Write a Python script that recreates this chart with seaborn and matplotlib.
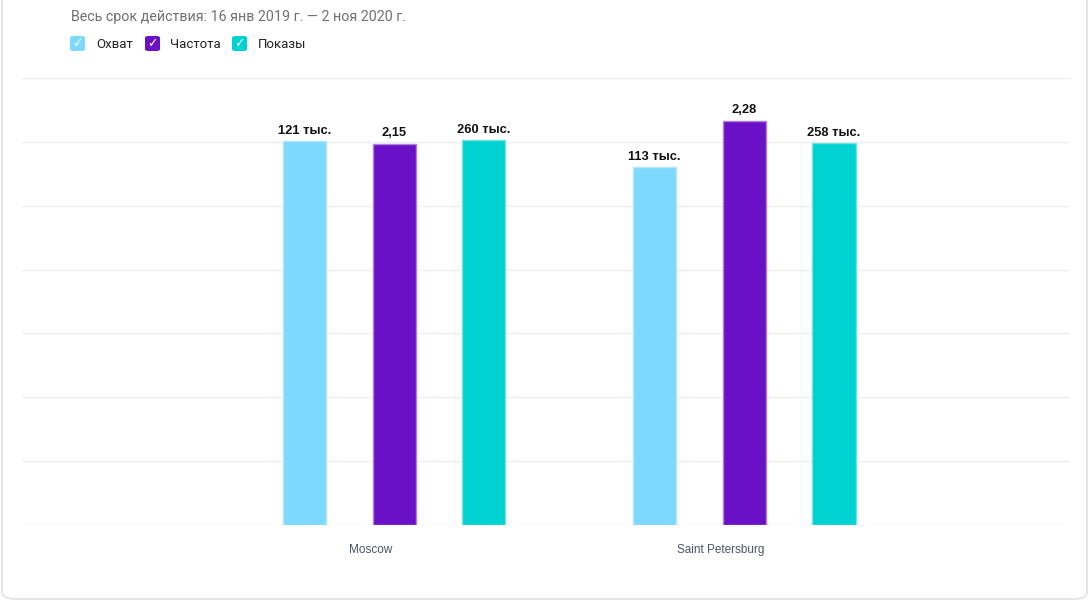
import pandas as pd
import seaborn as sns
import matplotlib.pyplot as plt
from matplotlib.patches import FancyBboxPatch
from matplotlib.transforms import ScaledTranslation

cities = ['Moscow', 'Saint Petersburg']
series = ['Охват', 'Частота', 'Показы']
reach = [121000, 113000]
frequency = [2.15, 2.28]
impressions = [260000, 258000]
colors = ['#7dd9ff', '#6a11c8', '#00d1d1']
axis_max = [141000, 2.52, 302000]   # each series has its own scale
title = 'Весь срок действия: 16 янв 2019 г. — 2 ноя 2020 г.'

df = pd.DataFrame({
    'city': cities * 3,
    'series': [s for s in series for _ in cities],
    'value': reach + frequency + impressions,
})


def fmt(s, v):
    if s == 'Частота':
        return f'{v:.2f}'.replace('.', ',')
    return f'{v / 1000:.0f} тыс.'


sns.set_theme(style='white')
plt.rcParams['font.family'] = ['Roboto', 'DejaVu Sans']

fig = plt.figure(figsize=(10.9, 6.02), dpi=100)
W, H = 1090, 602
ax = fig.add_axes([22 / W, 1 - 525 / H, (1070 - 22) / W, (525 - 78) / H])
axes = [ax, ax.twinx(), ax.twinx()]

for i, s in enumerate(series):
    a = axes[i]
    sub = df[df.series == s]
    sns.barplot(data=sub, x='city', y='value', hue='series', hue_order=series,
                order=cities, palette=colors, width=0.77, gap=0.52, dodge=True,
                saturation=1, errorbar=None, legend=False, ax=a, linewidth=1,
                edgecolor=sns.light_palette(colors[i], 3)[1])
    a.set_ylim(0, axis_max[i])
    for c in a.containers:
        if len(c) == 0 or any(p is None for p in c):
            continue
        a.bar_label(c, labels=[fmt(s, v) for v in sub['value']], padding=3,
                    fontsize=9.3, fontweight='bold', color='#111111',
                    family=['Liberation Sans', 'DejaVu Sans'])

ax.set_xlim(-1.063, 1.931)
ax.set_yticks([axis_max[0] / 7 * k for k in range(8)])
ax.grid(axis='y', color='#eeeeee', linewidth=1)
ax.grid(axis='x', visible=False)
ax.set_axisbelow(True)
for a in axes:
    a.set_ylabel('')
    a.set_xlabel('')
    a.tick_params(axis='y', left=False, right=False, labelleft=False, labelright=False)
    for sp in a.spines.values():
        sp.set_visible(False)
for a in axes[1:]:
    a.grid(False)
    a.patch.set_visible(False)

ax.tick_params(axis='x', length=0, pad=14, labelsize=8.5, labelcolor='#4a5565')
shift = ScaledTranslation(-23 / 100, 0, fig.dpi_scale_trans)
for lbl in ax.get_xticklabels():
    lbl.set_family(['Liberation Sans', 'DejaVu Sans'])
    lbl.set_transform(lbl.get_transform() + shift)

# card border
fig.patches.append(FancyBboxPatch((2 / W, 3 / H), 1085 / W, 1.2,
                                  boxstyle='round,pad=0,rounding_size=0.012',
                                  transform=fig.transFigure, facecolor='none',
                                  edgecolor='#e2e2e2', linewidth=1.2))

fig.text(71 / W, 1 - 17 / H, title, fontsize=10.3, color='#707070', va='center')

# checkbox legend
box_x = [70, 145, 232]
text_x = [96, 170, 258]
for i, s in enumerate(series):
    fig.patches.append(FancyBboxPatch((box_x[i] / W, 1 - 51 / H), 15 / W, 15 / H,
                                      boxstyle='round,pad=0,rounding_size=0.003',
                                      transform=fig.transFigure,
                                      facecolor=colors[i], edgecolor='none'))
    fig.text((box_x[i] + 7.5) / W, 1 - 43.5 / H, '✓', fontsize=9, color='white',
             ha='center', va='center', family='DejaVu Sans')
    fig.text(text_x[i] / W, 1 - 44 / H, s, fontsize=9.5, color='#222222', va='center')

fig.savefig('out.png', dpi=100)
